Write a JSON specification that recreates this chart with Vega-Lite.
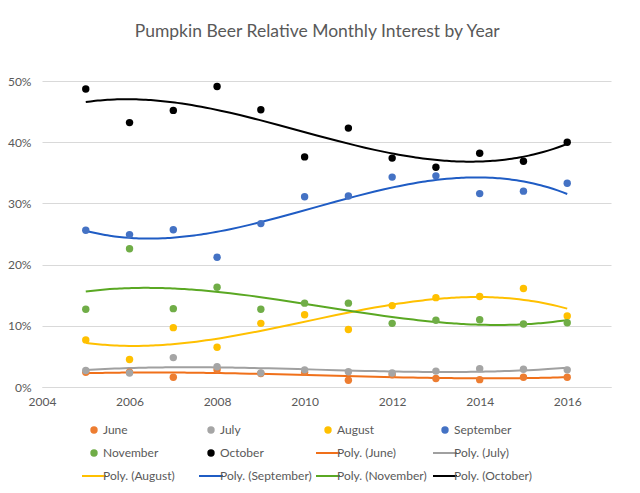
{
  "$schema": "https://vega.github.io/schema/vega-lite/v6.json",
  "width": 569,
  "height": 306,
  "padding": {"left": 7, "top": 22, "right": 29, "bottom": 5},
  "background": "white",
  "config": {
    "font": "Lato",
    "view": {"stroke": null},
    "axis": {
      "labelColor": "#595959",
      "labelFontSize": 12,
      "ticks": false,
      "title": null
    }
  },
  "title": {
    "text": "Pumpkin Beer Relative Monthly Interest by Year",
    "fontSize": 17.5,
    "fontWeight": "normal",
    "color": "#595959",
    "anchor": "middle",
    "frame": "bounds",
    "dx": 8,
    "offset": 35
  },
  "data": {
    "values": [
      {"year": 2005, "month": "June", "trend": "Poly. (June)", "value": 0.024},
      {"year": 2006, "month": "June", "trend": "Poly. (June)", "value": 0.024},
      {"year": 2007, "month": "June", "trend": "Poly. (June)", "value": 0.016},
      {"year": 2008, "month": "June", "trend": "Poly. (June)", "value": 0.028},
      {"year": 2009, "month": "June", "trend": "Poly. (June)", "value": 0.022},
      {"year": 2010, "month": "June", "trend": "Poly. (June)", "value": 0.024},
      {"year": 2011, "month": "June", "trend": "Poly. (June)", "value": 0.011},
      {"year": 2012, "month": "June", "trend": "Poly. (June)", "value": 0.020},
      {"year": 2013, "month": "June", "trend": "Poly. (June)", "value": 0.014},
      {"year": 2014, "month": "June", "trend": "Poly. (June)", "value": 0.012},
      {"year": 2015, "month": "June", "trend": "Poly. (June)", "value": 0.016},
      {"year": 2016, "month": "June", "trend": "Poly. (June)", "value": 0.016},
      {"year": 2005, "month": "July", "trend": "Poly. (July)", "value": 0.027},
      {"year": 2006, "month": "July", "trend": "Poly. (July)", "value": 0.023},
      {"year": 2007, "month": "July", "trend": "Poly. (July)", "value": 0.048},
      {"year": 2008, "month": "July", "trend": "Poly. (July)", "value": 0.033},
      {"year": 2009, "month": "July", "trend": "Poly. (July)", "value": 0.023},
      {"year": 2010, "month": "July", "trend": "Poly. (July)", "value": 0.028},
      {"year": 2011, "month": "July", "trend": "Poly. (July)", "value": 0.025},
      {"year": 2012, "month": "July", "trend": "Poly. (July)", "value": 0.023},
      {"year": 2013, "month": "July", "trend": "Poly. (July)", "value": 0.026},
      {"year": 2014, "month": "July", "trend": "Poly. (July)", "value": 0.030},
      {"year": 2015, "month": "July", "trend": "Poly. (July)", "value": 0.029},
      {"year": 2016, "month": "July", "trend": "Poly. (July)", "value": 0.028},
      {"year": 2005, "month": "August", "trend": "Poly. (August)", "value": 0.077},
      {"year": 2006, "month": "August", "trend": "Poly. (August)", "value": 0.045},
      {"year": 2007, "month": "August", "trend": "Poly. (August)", "value": 0.097},
      {"year": 2008, "month": "August", "trend": "Poly. (August)", "value": 0.065},
      {"year": 2009, "month": "August", "trend": "Poly. (August)", "value": 0.104},
      {"year": 2010, "month": "August", "trend": "Poly. (August)", "value": 0.118},
      {"year": 2011, "month": "August", "trend": "Poly. (August)", "value": 0.094},
      {"year": 2012, "month": "August", "trend": "Poly. (August)", "value": 0.133},
      {"year": 2013, "month": "August", "trend": "Poly. (August)", "value": 0.146},
      {"year": 2014, "month": "August", "trend": "Poly. (August)", "value": 0.148},
      {"year": 2015, "month": "August", "trend": "Poly. (August)", "value": 0.161},
      {"year": 2016, "month": "August", "trend": "Poly. (August)", "value": 0.116},
      {"year": 2005, "month": "September", "trend": "Poly. (September)", "value": 0.256},
      {"year": 2006, "month": "September", "trend": "Poly. (September)", "value": 0.249},
      {"year": 2007, "month": "September", "trend": "Poly. (September)", "value": 0.257},
      {"year": 2008, "month": "September", "trend": "Poly. (September)", "value": 0.212},
      {"year": 2009, "month": "September", "trend": "Poly. (September)", "value": 0.267},
      {"year": 2010, "month": "September", "trend": "Poly. (September)", "value": 0.311},
      {"year": 2011, "month": "September", "trend": "Poly. (September)", "value": 0.312},
      {"year": 2012, "month": "September", "trend": "Poly. (September)", "value": 0.343},
      {"year": 2013, "month": "September", "trend": "Poly. (September)", "value": 0.345},
      {"year": 2014, "month": "September", "trend": "Poly. (September)", "value": 0.316},
      {"year": 2015, "month": "September", "trend": "Poly. (September)", "value": 0.320},
      {"year": 2016, "month": "September", "trend": "Poly. (September)", "value": 0.333},
      {"year": 2005, "month": "November", "trend": "Poly. (November)", "value": 0.127},
      {"year": 2006, "month": "November", "trend": "Poly. (November)", "value": 0.226},
      {"year": 2007, "month": "November", "trend": "Poly. (November)", "value": 0.128},
      {"year": 2008, "month": "November", "trend": "Poly. (November)", "value": 0.163},
      {"year": 2009, "month": "November", "trend": "Poly. (November)", "value": 0.127},
      {"year": 2010, "month": "November", "trend": "Poly. (November)", "value": 0.137},
      {"year": 2011, "month": "November", "trend": "Poly. (November)", "value": 0.137},
      {"year": 2012, "month": "November", "trend": "Poly. (November)", "value": 0.104},
      {"year": 2013, "month": "November", "trend": "Poly. (November)", "value": 0.109},
      {"year": 2014, "month": "November", "trend": "Poly. (November)", "value": 0.110},
      {"year": 2015, "month": "November", "trend": "Poly. (November)", "value": 0.103},
      {"year": 2016, "month": "November", "trend": "Poly. (November)", "value": 0.105},
      {"year": 2005, "month": "October", "trend": "Poly. (October)", "value": 0.487},
      {"year": 2006, "month": "October", "trend": "Poly. (October)", "value": 0.432},
      {"year": 2007, "month": "October", "trend": "Poly. (October)", "value": 0.452},
      {"year": 2008, "month": "October", "trend": "Poly. (October)", "value": 0.491},
      {"year": 2009, "month": "October", "trend": "Poly. (October)", "value": 0.453},
      {"year": 2010, "month": "October", "trend": "Poly. (October)", "value": 0.376},
      {"year": 2011, "month": "October", "trend": "Poly. (October)", "value": 0.423},
      {"year": 2012, "month": "October", "trend": "Poly. (October)", "value": 0.374},
      {"year": 2013, "month": "October", "trend": "Poly. (October)", "value": 0.359},
      {"year": 2014, "month": "October", "trend": "Poly. (October)", "value": 0.382},
      {"year": 2015, "month": "October", "trend": "Poly. (October)", "value": 0.369},
      {"year": 2016, "month": "October", "trend": "Poly. (October)", "value": 0.400}
    ]
  },
  "layer": [
    {
      "transform": [
        {
          "regression": "value",
          "on": "year",
          "groupby": ["trend"],
          "method": "poly",
          "order": 3,
          "extent": [2005, 2016]
        }
      ],
      "mark": {"type": "line", "strokeWidth": 2},
      "encoding": {
        "x": {
          "field": "year",
          "type": "quantitative",
          "scale": {"domain": [2004, 2017], "nice": false, "zero": false},
          "axis": {
            "values": [2004, 2006, 2008, 2010, 2012, 2014, 2016],
            "format": "d",
            "grid": false,
            "labelFlush": false,
            "domainColor": "#d9d9d9",
            "labelPadding": 9
          }
        },
        "y": {
          "field": "value",
          "type": "quantitative",
          "scale": {"domain": [0, 0.5], "nice": false},
          "axis": {
            "values": [0, 0.1, 0.2, 0.3, 0.4, 0.5],
            "format": ".0%",
            "domain": false,
            "gridColor": "#d9d9d9",
            "labelPadding": 11
          }
        },
        "color": {
          "field": "trend",
          "type": "nominal",
          "scale": {
            "domain": ["June", "July", "August", "September", "November", "October",
                       "Poly. (June)", "Poly. (July)", "Poly. (August)", "Poly. (September)", "Poly. (November)", "Poly. (October)"],
            "range": ["#ED7D31", "#A5A5A5", "#FFC000", "#4472C4", "#70AD47", "#000000",
                      "#F0701A", "#A0A0A0", "#FFC000", "#1F5CC4", "#5AA823", "#000000"]
          },
          "legend": {
            "title": null,
            "orient": "none",
            "legendX": 46,
            "legendY": 343,
            "columns": 4,
            "direction": "horizontal",
            "gridAlign": "all",
            "columnPadding": 0,
            "rowPadding": 11,
            "padding": 0,
            "labelColor": "#595959",
            "labelFontSize": 12,
            "labelOffset": 3,
            "labelLimit": 200,
            "encode": {
              "symbols": {
                "update": {
                  "shape": {"signal": "test(/Poly/, datum.label) ? 'stroke' : 'circle'"},
                  "size": {"signal": "test(/Poly/, datum.label) ? 576 : 55"},
                  "strokeWidth": {"signal": "test(/Poly/, datum.label) ? 2 : 0"},
                  "fill": {"scale": "color", "field": "value"},
                  "stroke": {"scale": "color", "field": "value"},
                  "opacity": {"value": 1}
                }
              }
            }
          }
        }
      }
    },
    {
      "mark": {"type": "point", "filled": true, "opacity": 1, "size": 55},
      "encoding": {
        "x": {"field": "year", "type": "quantitative"},
        "y": {"field": "value", "type": "quantitative"},
        "color": {"field": "month", "type": "nominal"}
      }
    }
  ]
}
